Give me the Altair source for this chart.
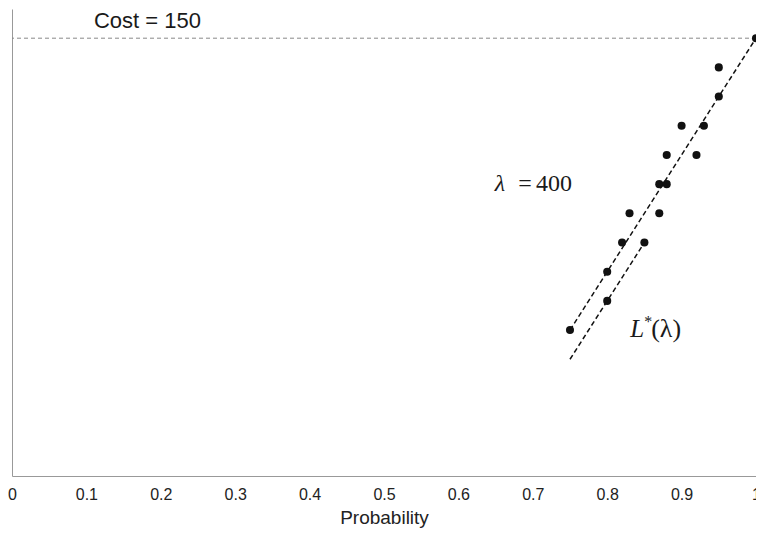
import altair as alt
import pandas as pd

# Data
prob = [1.00, 0.95, 0.95, 0.90, 0.93, 0.88, 0.92, 0.87, 0.88, 0.83, 0.87, 0.82, 0.85, 0.80, 0.80, 0.75]
cost = [150, 140, 130, 120, 120, 110, 110, 100, 100, 90, 90, 80, 80, 70, 60, 50]

line_x = [0.75, 1.00, 0.75, 0.85]
line_y = [50, 150, 40, 80]
line_id = ["lambda", "lambda", "Lstar", "Lstar"]

cost_level = [150]

pts = pd.DataFrame({"p": prob, "c": cost})
lines = pd.DataFrame({"p": line_x, "c": line_y, "g": line_id})
hl = pd.DataFrame({"c": cost_level})

X = alt.X("p:Q", scale=alt.Scale(domain=[0, 1], nice=False, zero=False),
          axis=alt.Axis(values=[0, 0.1, 0.2, 0.3, 0.4, 0.5, 0.6, 0.7, 0.8, 0.9, 1.0],
                        format="~g", title="Probability", ticks=False,
                        labelFont="Liberation Sans", labelFontSize=16, labelColor="#222",
                        labelPadding=10, titleFont="Liberation Sans", titleFontSize=19,
                        titleFontWeight="normal", titleColor="#222", titlePadding=6,
                        domainColor="#999", grid=False, labelFlush=False))
Y = alt.Y("c:Q", scale=alt.Scale(domain=[0, 160], nice=False),
          axis=alt.Axis(labels=False, ticks=False, title=None, grid=False, domainColor="#999"))

hline = alt.Chart(hl).mark_rule(color="#888", strokeWidth=1, strokeDash=[4, 3]).encode(y=Y)

dlines = alt.Chart(lines).mark_line(color="#111", strokeWidth=1.5, strokeDash=[5, 3]).encode(
    x=X, y=Y, detail="g:N")

dots = alt.Chart(pts).mark_circle(color="#111", opacity=1, size=65).encode(x=X, y=Y)

def txt(s, x, y, font, size, align="center", italic=False, dx=0, dy=0):
    d = pd.DataFrame({"p": [x], "c": [y], "t": [s]})
    return alt.Chart(d).mark_text(font=font, fontSize=size, align=align, baseline="middle",
                                  fontStyle="italic" if italic else "normal",
                                  dx=dx, dy=dy, color="#1a1a1a").encode(x=X, y=Y, text="t:N")

cost_txt = txt("Cost = 150", 0.182, 155.8, "Liberation Sans", 22)
lam1 = txt("λ", 0.6694, 100, "Liberation Serif", 24, align="right", italic=True, dx=-5)
lam2 = txt("=", 0.6694, 100, "Liberation Serif", 24, align="center", dx=15)
lam3 = txt("400", 0.6694, 100, "Liberation Serif", 24, align="left", dx=26)
ls1 = txt("L", 0.8484, 50.3, "Liberation Serif", 25, align="right", italic=True, dx=1)
ls2 = txt("*", 0.8484, 50.3, "Liberation Serif", 16, align="left", dx=1, dy=-7)
ls3 = txt("(λ)", 0.8484, 50.3, "Liberation Serif", 26, align="left", dx=8)

chart = alt.layer(hline, dlines, dots, cost_txt, lam1, lam2, lam3, ls1, ls2, ls3).properties(
    width=744, height=467,
    autosize=alt.AutoSizeParams(type="none"),
    padding={"left": 4, "top": 1, "right": 0, "bottom": 52},
).configure_view(strokeWidth=0)

chart.save("out.html", embed_options={"renderer": "svg", "actions": False})
